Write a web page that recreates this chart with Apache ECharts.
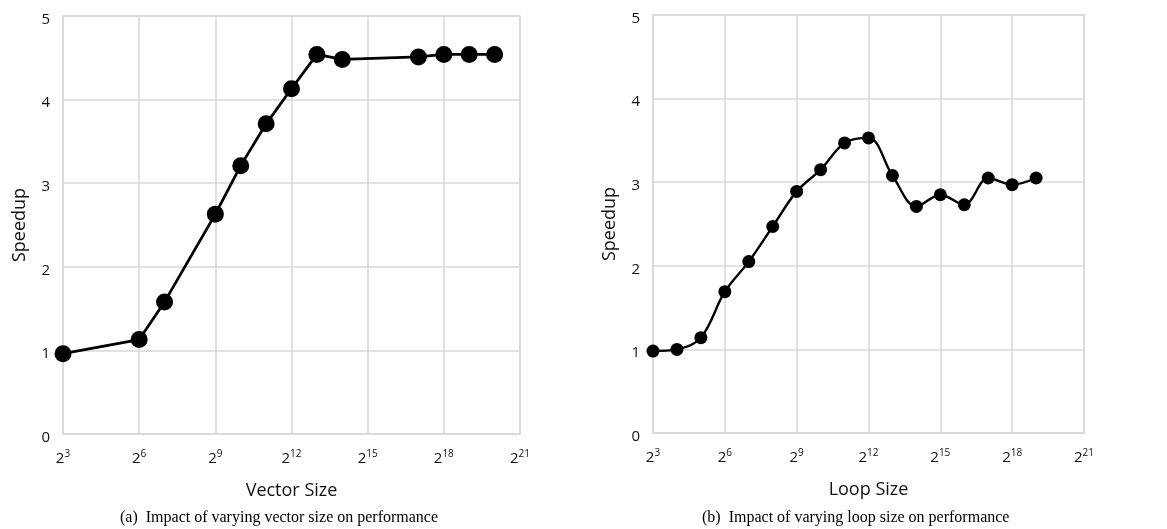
<!DOCTYPE html>
<html><head><meta charset="utf-8">
<script src="https://cdn.jsdelivr.net/npm/echarts@6/dist/echarts.min.js"></script>
<style>html,body{margin:0;padding:0;background:#fff}#c{width:1167px;height:529px}</style>
</head><body><div id="c"></div>
<script>
// Data: x = log2(size), y = speedup
const vectorExp = [3, 6, 7, 9, 10, 11, 12, 13, 14, 17, 18, 19, 20];
const vectorSpeedup = [0.96, 1.13, 1.58, 2.63, 3.21, 3.71, 4.13, 4.54, 4.48, 4.51, 4.54, 4.54, 4.54];
const loopExp = [3, 4, 5, 6, 7, 8, 9, 10, 11, 12, 13, 14, 15, 16, 17, 18, 19];
const loopSpeedup = [0.98, 1.0, 1.14, 1.69, 2.05, 2.47, 2.89, 3.15, 3.47, 3.53, 3.08, 2.71, 2.85, 2.73, 3.05, 2.97, 3.05];
const xTickExps = [3, 6, 9, 12, 15, 18, 21];
const yTicks = [0, 1, 2, 3, 4, 5];
const captions = ['(a)  Impact of varying vector size on performance', '(b)  Impact of varying loop size on performance'];
const xNames = ['Vector Size', 'Loop Size'];

const gridCol = '#d9d9d9';
const font = '"Open Sans", "Noto Sans", sans-serif';

function xAxis(idx) {
  return {
    type: 'value', gridIndex: idx, min: 3, max: 21, interval: 3,
    name: xNames[idx], nameLocation: 'middle', nameGap: 48,
    nameTextStyle: { fontFamily: font, fontSize: 18, color: '#111' },
    axisLine: { show: true, lineStyle: { color: gridCol, width: 1.5 } },
    axisTick: { show: false },
    splitLine: { show: true, lineStyle: { color: gridCol, width: 1.5 } },
    axisLabel: {
      margin: 15,
      formatter: v => '{b|2}{s|' + v + '}',
      rich: {
        b: { fontFamily: font, fontSize: 15, color: '#111', verticalAlign: 'bottom' },
        s: { fontFamily: font, fontSize: 10, color: '#111', verticalAlign: 'bottom', padding: [0, 0, 7, 0] }
      }
    }
  };
}
function yAxis(idx) {
  return {
    type: 'value', gridIndex: idx, min: 0, max: 5, interval: 1,
    name: 'Speedup', nameLocation: 'middle', nameGap: 34,
    nameTextStyle: { fontFamily: font, fontSize: 18, color: '#111' },
    axisLine: { show: true, lineStyle: { color: gridCol, width: 1.5 } },
    axisTick: { show: false },
    splitLine: { show: true, lineStyle: { color: gridCol, width: 1.5 } },
    axisLabel: { margin: 13, fontFamily: font, fontSize: 15, color: '#111', verticalAlign: 'top', lineHeight: 7 }
  };
}

const chart = echarts.init(document.getElementById('c'), null, { renderer: 'canvas' });
chart.setOption({
  animation: false,
  backgroundColor: '#fff',
  grid: [
    { left: 63, right: 647, top: 16, bottom: 95, show: true, borderColor: gridCol, borderWidth: 1.5 },
    { left: 653, right: 83, top: 15, bottom: 96, show: true, borderColor: gridCol, borderWidth: 1.5 }
  ],
  xAxis: [xAxis(0), xAxis(1)],
  yAxis: [yAxis(0), yAxis(1)],
  series: [
    {
      type: 'line', xAxisIndex: 0, yAxisIndex: 0,
      data: vectorExp.map((e, i) => [e, vectorSpeedup[i]]),
      symbol: 'circle', symbolSize: 17,
      lineStyle: { color: '#000', width: 2.8 },
      itemStyle: { color: '#000' }
    },
    {
      type: 'line', xAxisIndex: 1, yAxisIndex: 1,
      data: loopExp.map((e, i) => [e, loopSpeedup[i]]),
      smooth: 0.35,
      symbol: 'circle', symbolSize: 13,
      lineStyle: { color: '#000', width: 2.4 },
      itemStyle: { color: '#000' }
    }
  ],
  graphic: [
    { type: 'text', left: 290 - 170, top: 510, style: { text: captions[0], font: '16px "Liberation Serif", "Times New Roman", serif', fill: '#000' } },
    { type: 'text', left: 867 - 165, top: 510, style: { text: captions[1], font: '16px "Liberation Serif", "Times New Roman", serif', fill: '#000' } }
  ]
});
</script></body></html>
